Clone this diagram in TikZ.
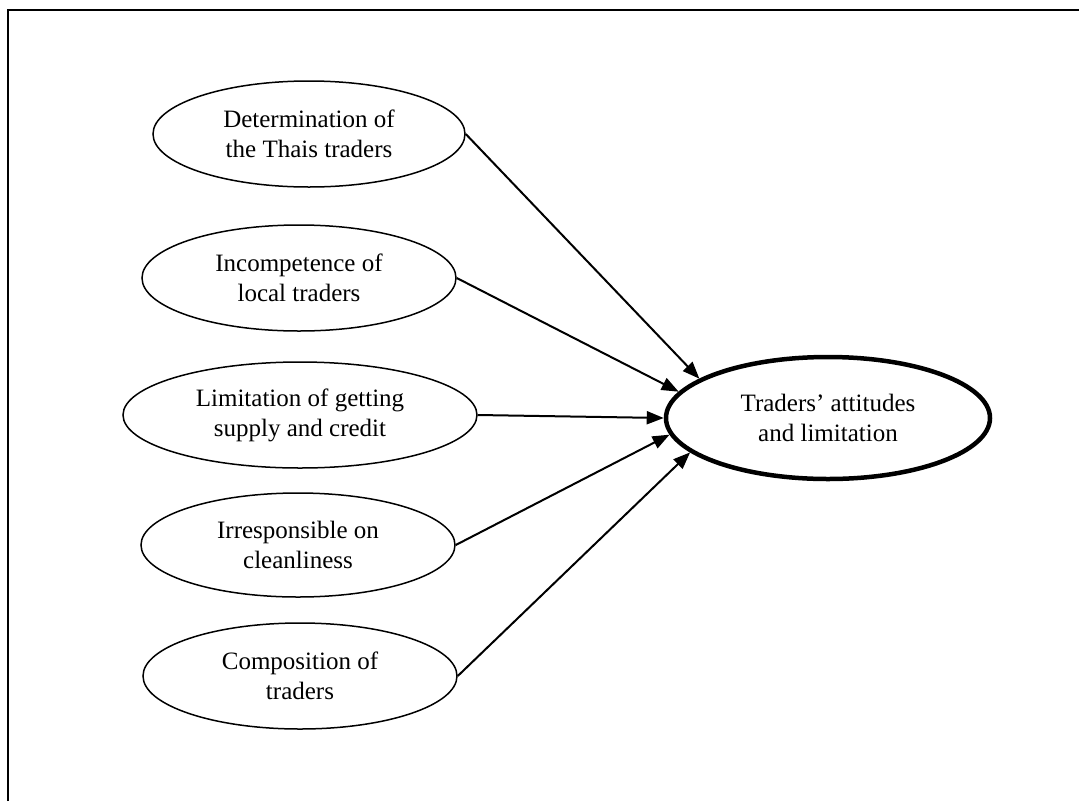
\documentclass[tikz,border=0pt]{standalone}
\usepackage{fontspec}
\setmainfont{Liberation Serif}
\usetikzlibrary{shapes.geometric,arrows.meta}
\begin{document}
\begin{tikzpicture}[x=1pt,y=-1pt,
  factor/.style={ellipse,draw,line width=1.5pt,inner sep=0pt,align=center,
    font=\fontsize{25}{30}\selectfont},
  outcome/.style={ellipse,draw,line width=4.5pt,inner sep=0pt,align=center,
    font=\fontsize{25}{30}\selectfont,minimum width=324pt,minimum height=122pt},
  link/.style={line width=2pt,-{Triangle[length=17pt,width=13pt]}}]
\useasboundingbox (0,0) rectangle (1079,801);
% frame lines
\draw[line width=2pt] (8,801) -- (8,9.5) -- (1079,9.5);
% factors
\node[factor,minimum width=312pt,minimum height=106pt] (f1) at (309,134) {Determination of\\the Thais traders};
\node[factor,minimum width=314pt,minimum height=106pt] (f2) at (299,278) {Incompetence of\\local traders};
\node[factor,minimum width=354pt,minimum height=106pt] (f3) at (300,415) {Limitation of getting\\supply and credit};
\node[factor,minimum width=314pt,minimum height=104pt] (f4) at (298,545) {Irresponsible on\\cleanliness};
\node[factor,minimum width=314pt,minimum height=106pt] (f5) at (300,676) {Composition of\\traders};
% outcome
\node[outcome] (t) at (828,418) {Traders' attitudes\\and limitation};
% links
\draw[link] (f1.east) -- (t.163);
\draw[link] (f2.east) -- (t.170);
\draw[link] (f3.east) -- (t.180);
\draw[link] (f4.east) -- (t.186);
\draw[link] (f5.east) -- (t.194);
\end{tikzpicture}
\end{document}
